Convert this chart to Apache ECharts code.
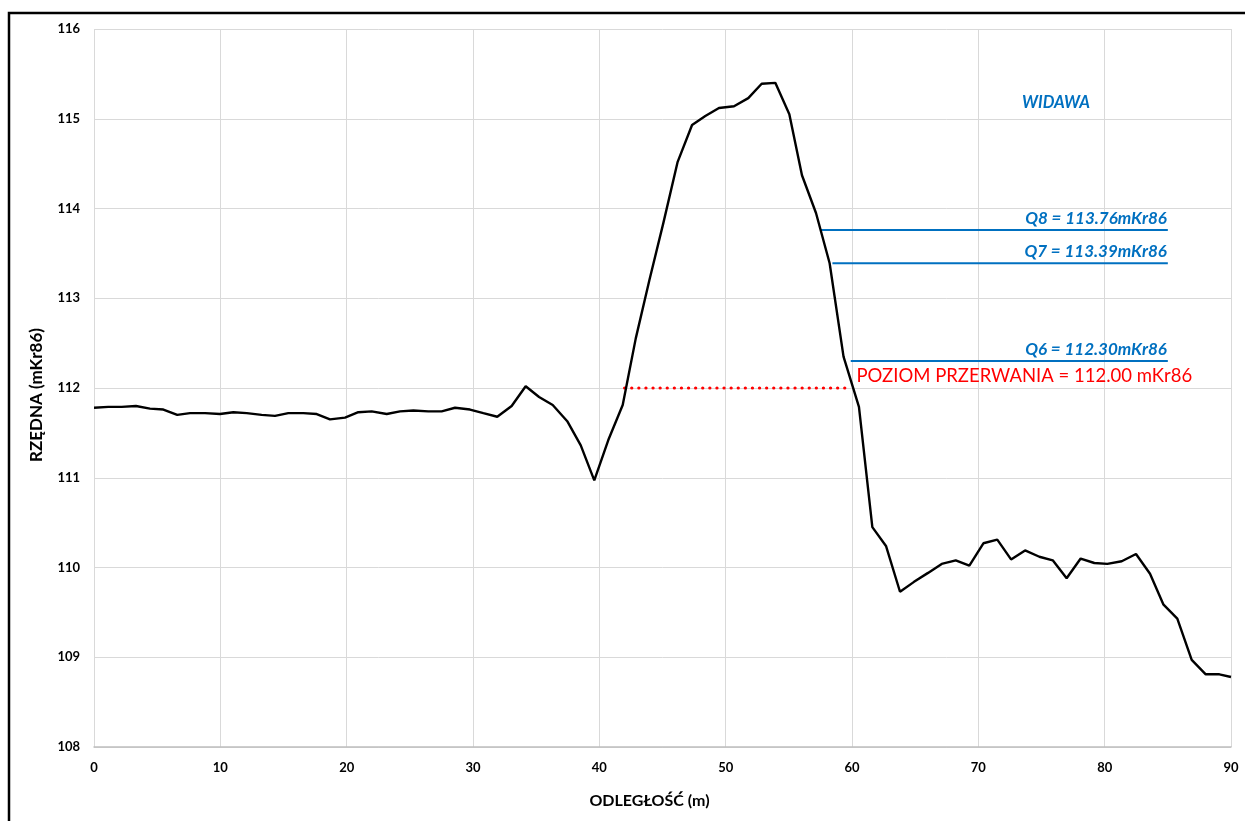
<!DOCTYPE html>
<html>
<head>
<meta charset="utf-8">
<script src="https://cdn.jsdelivr.net/npm/echarts@6/dist/echarts.min.js"></script>
<style>
html,body{margin:0;padding:0;background:#fff;}
#chart{width:1245px;height:821px;}
</style>
</head>
<body>
<div id="chart"></div>
<script>
// ---- data ----
const distances = [0,1.13,2.19,3.32,4.43,5.49,6.59,7.60,8.79,9.97,
  11.03,12.09,13.27,14.33,15.38,16.57,17.63,18.68,19.87,20.92,
  21.98,23.17,24.22,25.28,26.46,27.52,28.58,29.76,30.82,31.92,
  33.06,34.17,35.23,36.31,37.46,38.53,39.60,40.71,41.85,42.88,
  43.96,45.07,46.20,47.34,48.39,49.47,50.66,51.79,52.85,53.93,
  55.04,56.04,57.15,58.23,59.33,60.55,61.61,62.69,63.80,64.91,
  66.02,67.10,68.21,69.29,70.40,71.50,72.59,73.70,74.83,75.89,
  76.99,78.10,79.18,80.21,81.35,82.48,83.59,84.64,85.75,86.89,
  88.00,89.08,90.00];
const elevations = [111.78,111.79,111.79,111.80,111.77,111.76,111.70,111.72,111.72,111.71,
  111.73,111.72,111.70,111.69,111.72,111.72,111.71,111.65,111.67,111.73,
  111.74,111.71,111.74,111.75,111.74,111.74,111.78,111.76,111.72,111.68,
  111.80,112.02,111.90,111.81,111.63,111.36,110.97,111.42,111.81,112.55,
  113.20,113.84,114.52,114.93,115.03,115.12,115.14,115.23,115.39,115.40,
  115.05,114.37,113.95,113.39,112.35,111.79,110.45,110.24,109.73,109.84,
  109.94,110.04,110.08,110.02,110.27,110.31,110.09,110.19,110.12,110.08,
  109.88,110.10,110.05,110.04,110.07,110.15,109.93,109.59,109.43,108.97,
  108.81,108.81,108.78];

const qNames = ['Q8', 'Q7', 'Q6'];
const qLevels = [113.76, 113.39, 112.30];
const qStarts = [57.5, 58.45, 59.9];
const qEnd = 85.0;

const breakLevel = 112.00;
const breakStart = 42.0;
const breakEnd = 59.8;
const breakLabel = 'POZIOM PRZERWANIA = 112.00 mKr86';
const riverName = 'WIDAWA';

const xTicks = {min: 0, max: 90, interval: 10};
const yTicks = {min: 108, max: 116, interval: 1};

// ---- chart ----
const FONT = 'Lato';
const chart = echarts.init(document.getElementById('chart'), null, {renderer: 'canvas'});

const profile = distances.map((d, i) => [d, elevations[i]]);

const qSeries = qLevels.map((lv, i) => ({
  type: 'line',
  name: qNames[i],
  silent: true,
  symbol: 'circle',
  symbolSize: 0,
  showSymbol: true,
  itemStyle: {color: '#0070C0'},
  lineStyle: {color: '#0070C0', width: 2},
  data: [
    [qStarts[i], lv],
    {
      value: [qEnd, lv],
      label: {
        show: true,
        position: 'top',
        align: 'right',
        distance: 3,
        offset: [-1, 0],
        formatter: qNames[i] + ' = ' + lv.toFixed(2) + 'mKr86',
        color: '#0070C0',
        fontFamily: FONT,
        fontWeight: 'bold',
        fontStyle: 'italic',
        fontSize: 17
      }
    }
  ],
  z: 3
}));

const option = {
  backgroundColor: '#fff',
  animation: false,
  title: {
    text: riverName,
    left: 1017,
    top: 89,
    textStyle: {color: '#0070C0', fontFamily: FONT, fontWeight: 'bold', fontStyle: 'italic', fontSize: 16.5}
  },
  grid: {left: 94, right: 14, top: 29, bottom: 74, containLabel: false},
  xAxis: {
    type: 'value',
    min: xTicks.min, max: xTicks.max, interval: xTicks.interval,
    name: 'ODLEGŁOŚĆ (m)',
    nameLocation: 'middle',
    nameGap: 46,
    nameTextStyle: {color: '#000', fontFamily: FONT, fontWeight: 'bold', fontSize: 16, padding: [0, 26, 0, 0]},
    axisLine: {show: true, lineStyle: {color: '#bfbfbf', width: 1.5}},
    axisTick: {show: false},
    axisLabel: {color: '#000', fontFamily: FONT, fontWeight: 'bold', fontSize: 13, margin: 14},
    splitLine: {show: true, lineStyle: {color: '#d9d9d9', width: 1}}
  },
  yAxis: {
    type: 'value',
    min: yTicks.min, max: yTicks.max, interval: yTicks.interval,
    name: 'RZĘDNA (mKr86)',
    nameLocation: 'middle',
    nameGap: 49,
    nameRotate: 90,
    nameTextStyle: {color: '#000', fontFamily: FONT, fontWeight: 'bold', fontSize: 17, padding: [0, 14, 0, 0]},
    axisLine: {show: false},
    axisTick: {show: false},
    axisLabel: {color: '#000', fontFamily: FONT, fontWeight: 'bold', fontSize: 13, margin: 14},
    splitLine: {show: true, lineStyle: {color: '#d9d9d9', width: 1}}
  },
  graphic: [{
    type: 'rect',
    shape: {x: 9, y: 13, width: 1400, height: 1000},
    style: {fill: null, stroke: '#000', lineWidth: 2.5},
    silent: true,
    z: 100
  }],
  series: [
    {
      type: 'line',
      name: 'profil',
      symbol: 'none',
      lineStyle: {color: '#000', width: 2.4},
      data: profile,
      z: 4
    },
    {
      type: 'line',
      name: 'przerwanie',
      symbol: 'circle',
      symbolSize: 0,
      showSymbol: true,
      silent: true,
      itemStyle: {color: '#ff0000'},
      lineStyle: {color: '#ff0000', width: 3.2, type: [0.1, 7], cap: 'round'},
      data: [
        [breakStart, breakLevel],
        {
          value: [breakEnd, breakLevel],
          label: {
            show: true,
            position: 'right',
            distance: 7,
            offset: [0, -12],
            formatter: breakLabel,
            color: '#ff0000',
            fontFamily: FONT,
            fontSize: 18.5
          }
        }
      ],
      z: 3
    }
  ].concat(qSeries)
};
chart.setOption(option);
</script>
</body>
</html>
